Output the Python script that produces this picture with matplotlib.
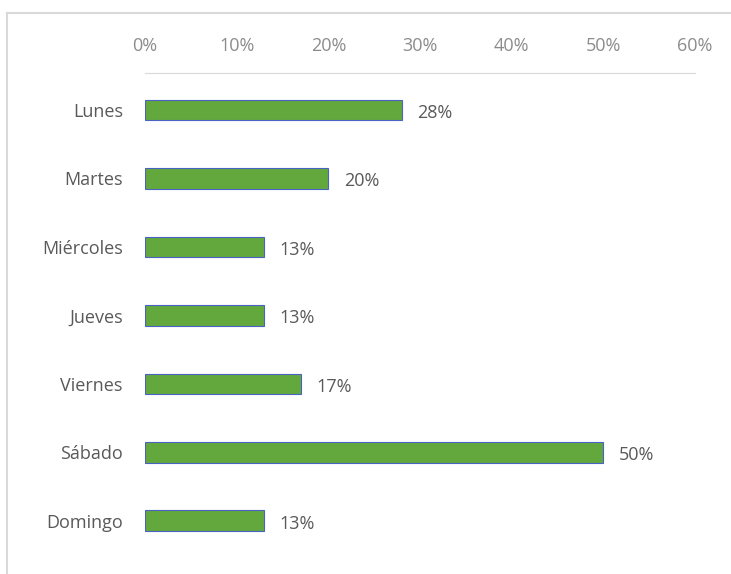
import matplotlib.pyplot as plt
from matplotlib.lines import Line2D
from matplotlib.ticker import PercentFormatter

days = ['Lunes', 'Martes', 'Miércoles', 'Jueves', 'Viernes', 'Sábado', 'Domingo']
values = [0.28, 0.20, 0.13, 0.13, 0.17, 0.50, 0.13]
labels = ['28%', '20%', '13%', '13%', '17%', '50%', '13%']
ticks = [0, 0.1, 0.2, 0.3, 0.4, 0.5, 0.6]

W, H = 731, 574
fig = plt.figure(figsize=(W / 100, H / 100), dpi=100)
plt.rcParams['font.family'] = ['Open Sans', 'DejaVu Sans']

# light frame (left and top edges only are visible)
fig.lines.append(Line2D([7 / W, 7 / W], [0, 1 - 13 / H], transform=fig.transFigure,
                        color='#d9d9d9', linewidth=1.5))
fig.lines.append(Line2D([7 / W, 1], [1 - 13 / H, 1 - 13 / H], transform=fig.transFigure,
                        color='#d9d9d9', linewidth=1.5))

left, right = 145 / W, 695 / W
top, bottom = 1 - 73 / H, 1 - 555 / H
ax = fig.add_axes([left, bottom, right - left, top - bottom])

ypos = list(range(len(days)))
ax.barh(ypos, values, height=0.3, color='#62a83c', edgecolor='#4a62c4', linewidth=0.8)
for y, v, t in zip(ypos, values, labels):
    ax.text(v + 0.017, y + 0.04, t, va='center', ha='left', fontsize=13, color='#595959')

ax.set_xlim(0, 0.6)
ax.set_ylim(len(days) - 0.5, -0.54)
ax.set_yticks(ypos)
ax.set_yticklabels(days, fontsize=13, color='#595959')
ax.xaxis.tick_top()
ax.set_xticks(ticks)
ax.xaxis.set_major_formatter(PercentFormatter(1.0, decimals=0))
ax.tick_params(axis='x', colors='#8c8c8c', labelsize=13, length=0, pad=13)
ax.tick_params(axis='y', length=0, pad=16)
for s in ['right', 'bottom', 'left']:
    ax.spines[s].set_visible(False)
ax.spines['top'].set_color('#d9d9d9')

fig.savefig('out.png', dpi=100)
